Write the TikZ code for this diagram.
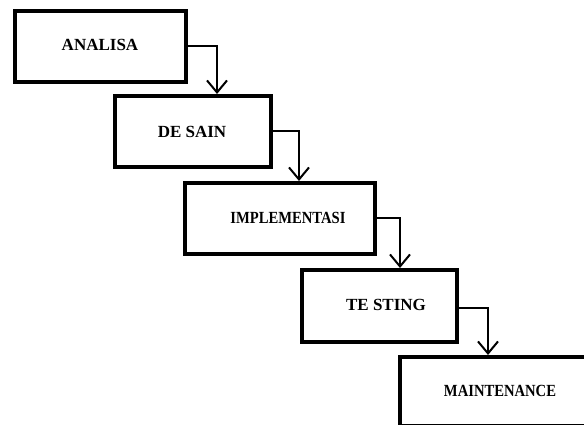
\documentclass[tikz,border=0pt]{standalone}
\usepackage{fontspec}
\setmainfont{Liberation Serif}
\usetikzlibrary{arrows.meta}
\begin{document}
\begin{tikzpicture}[x=1pt,y=-1pt,
  stagebox/.style={draw=black, line width=3.8pt, inner sep=0pt, anchor=north west},
  lbl/.style={inner sep=0pt, font=\fontsize{17}{20}\selectfont\bfseries},
  flow/.style={draw=black, line width=2pt,
    -{Straight Barb[length=12pt,width=20pt]}}]
  \useasboundingbox (0,0) rectangle (584,425);
  \fill[white] (0,0) rectangle (584,425);
  \clip (0,0) rectangle (584,425);

  % the five phases, stepping down to the right
  \node[stagebox, minimum width=171pt, minimum height=71pt] (b1) at (13,9) {};
  \node[stagebox, minimum width=156pt, minimum height=71pt] (b2) at (113,94) {};
  \node[stagebox, minimum width=190pt, minimum height=71pt] (b3) at (183,181) {};
  \node[stagebox, minimum width=155pt, minimum height=72pt] (b4) at (300,268) {};
  \node[stagebox, minimum width=230pt, minimum height=69pt] (b5) at (398,355) {};

  % phase names
  \node[lbl] (t1) at (100,45) {ANALISA};
  \node[lbl] (t2) at (192,132) {DE SAIN};
  \node[lbl] (t3) at (288,218) {\scalebox{0.86}[1]{IMPLEMENTASI}};
  \node[lbl] (t4) at (386,305) {TE STING};
  \node[lbl] (t5) at (500,391) {\scalebox{0.86}[1]{MAINTENANCE}};

  % flow from each phase into the next
  \draw[flow] (b1.east) -| ([xshift=104pt]b2.north west);
  \draw[flow] (b2.east) -| ([xshift=116pt]b3.north west);
  \draw[flow] (b3.east) -| ([xshift=100pt]b4.north west);
  \draw[flow] ([yshift=-2pt]b4.east) -| ([xshift=90pt]b5.north west);
\end{tikzpicture}
\end{document}
